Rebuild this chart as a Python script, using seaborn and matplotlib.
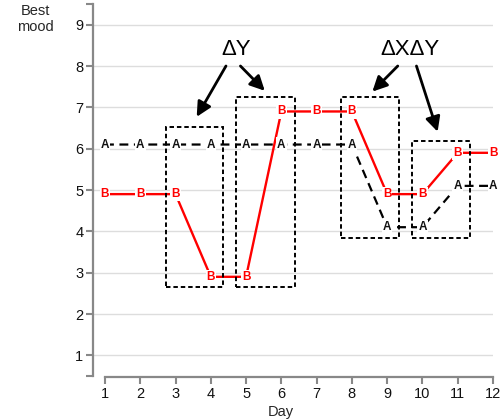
import pandas as pd
import matplotlib
matplotlib.use("Agg")
import matplotlib.pyplot as plt
import seaborn as sns
from matplotlib.patches import Rectangle

# Data
days = list(range(1, 13))
mood_a = [6.1, 6.1, 6.1, 6.1, 6.1, 6.1, 6.1, 6.1, 4.1, 4.1, 5.1, 5.1]
mood_b = [4.9, 4.9, 4.9, 2.9, 2.9, 6.9, 6.9, 6.9, 4.9, 4.9, 5.9, 5.9]
y_ticks = [1, 2, 3, 4, 5, 6, 7, 8, 9]

# Highlight boxes (x0, y0, x1, y1)
boxes = [
    (2.73, 2.65, 4.34, 6.53),
    (4.70, 2.65, 6.40, 7.24),
    (7.70, 3.83, 9.34, 7.24),
    (9.70, 3.83, 11.35, 6.19),
]

labels = ["ΔY", "ΔXΔY"]
label_pos = [(4.71, 8.39), (9.64, 8.39)]
arrows = [
    ((4.43, 8.0), (3.60, 6.77)),
    ((4.84, 8.0), (5.53, 7.40)),
    ((9.30, 8.0), (8.58, 7.38)),
    ((9.83, 8.0), (10.43, 6.41)),
]

df = pd.DataFrame({"day": days + days,
                   "mood": mood_a + mood_b,
                   "person": ["A"] * 12 + ["B"] * 12})

sns.set_style("white")
plt.rcParams["font.family"] = ["Liberation Sans", "DejaVu Sans"]

fig = plt.figure(figsize=(5.03, 4.2), dpi=100)
ax = fig.add_axes([93 / 503, 1 - 376 / 420, 400 / 503, 372 / 420])

sns.lineplot(data=df[df["person"] == "A"], x="day", y="mood", ax=ax,
             color="black", linewidth=1.6, linestyle=(0, (4, 2.5)), zorder=3)
sns.lineplot(data=df[df["person"] == "B"], x="day", y="mood", ax=ax,
             color="red", linewidth=1.7, zorder=3)

# Letter markers
for d, a, b in zip(days, mood_a, mood_b):
    ax.text(d, a, "A", color="#111111", fontsize=8.5, fontweight="bold",
            ha="center", va="center", zorder=5,
            bbox=dict(facecolor="white", edgecolor="none", pad=0.8))
    ax.text(d, b, "B", color="red", fontsize=8.5, fontweight="bold",
            ha="center", va="center", zorder=5,
            bbox=dict(facecolor="white", edgecolor="none", pad=0.8))

for x0, y0, x1, y1 in boxes:
    ax.add_patch(Rectangle((x0, y0), x1 - x0, y1 - y0, fill=False,
                           edgecolor="black", linewidth=1.4,
                           linestyle=(0, (2.3, 1.5)), zorder=4))

for txt, (tx, ty) in zip(labels, label_pos):
    ax.text(tx, ty, txt, fontsize=16, ha="center", va="center", color="black")

for start, end in arrows:
    ax.annotate("", xy=end, xytext=start,
                arrowprops=dict(arrowstyle="-|>", color="black", lw=2,
                                mutation_scale=22, shrinkA=0, shrinkB=0))

ax.set_xlim(0.66, 12)
ax.set_ylim(0.5, 9.5)
ax.set_xticks(days)
ax.set_yticks(y_ticks)
ax.set_yticks([0.5, 9.5], minor=True)
ax.grid(axis="y", color="#dddddd", linewidth=1)
ax.set_axisbelow(True)
ax.set_xlabel("")
ax.set_ylabel("")

for side in ["top", "right"]:
    ax.spines[side].set_visible(False)
for side in ["left", "bottom"]:
    ax.spines[side].set_color("#888888")
    ax.spines[side].set_linewidth(1.6)
ax.spines["bottom"].set_bounds(1, 12)
ax.spines["bottom"].set_position(("outward", 1))

ax.tick_params(axis="both", which="both", length=5, width=1.5,
               color="#888888", labelsize=10.5, labelcolor="#111111", pad=2,
               left=True, bottom=True)

fig.text(35 / 503, 1 - 19 / 420, "Best\nmood", ha="center", va="center",
         fontsize=10.5, linespacing=1.1)
fig.text(281 / 503, 1 - 412 / 420, "Day", ha="center", va="center",
         fontsize=10.5)

fig.savefig("out.png", dpi=100)
